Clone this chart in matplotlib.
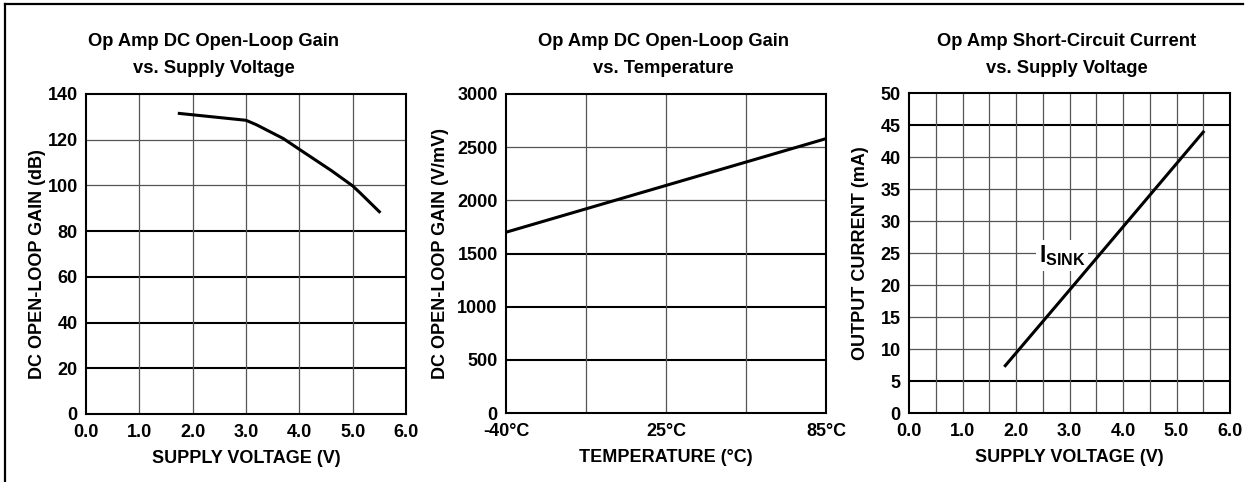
import matplotlib.pyplot as plt
from matplotlib.lines import Line2D

plt.rcParams['font.family'] = ['Liberation Sans', 'DejaVu Sans']
plt.rcParams['font.weight'] = 'bold'
plt.rcParams['mathtext.fontset'] = 'custom'
plt.rcParams['mathtext.bf'] = 'Liberation Sans:bold'
plt.rcParams['mathtext.rm'] = 'Liberation Sans:bold'

# Panel 1: open-loop gain vs supply voltage
gain_v = [1.75, 3.0, 3.2, 3.7, 4.0, 4.6, 5.0, 5.15, 5.5]
gain_db = [131.5, 128.5, 126.5, 120.5, 115.8, 106.5, 99.8, 96.5, 88.5]
p1_yticks = [0, 20, 40, 60, 80, 100, 120, 140]
p1_heavy = [20, 40, 60, 80]
p1_xticks = [0, 1, 2, 3, 4, 5, 6]

# Panel 2: open-loop gain vs temperature
temp_c = [-40, 85]
gain_vmv = [1700, 2580]
p2_yticks = [0, 500, 1000, 1500, 2000, 2500, 3000]
p2_heavy = [500, 1000, 1500]
p2_xgrid = [-40, -8.75, 22.5, 53.75, 85]
p2_xticks = [-40, 22.5, 85]
p2_xlabels = ['-40°C', '25°C', '85°C']

# Panel 3: short-circuit current vs supply voltage
sink_v = [1.8, 3.0, 5.5]
sink_ma = [7.4, 19.2, 43.9]
p3_yticks = [0, 5, 10, 15, 20, 25, 30, 35, 40, 45, 50]
p3_heavy = [5, 45]
p3_xgrid = [0.5 * i for i in range(13)]
p3_xticks = [0, 1, 2, 3, 4, 5, 6]

W, H = 1246, 482
fig = plt.figure(figsize=(W / 100, H / 100), dpi=100)

TICK_FS = 13
LABEL_FS = 13
TITLE_FS = 13.2


def px_axes(l, t, r, b):
    return fig.add_axes([l / W, 1 - b / H, (r - l) / W, (b - t) / H])


def style(ax, yticks, heavy, xgrid, xlim):
    ax.set_xlim(*xlim)
    ax.set_ylim(yticks[0], yticks[-1])
    ax.set_yticks(yticks)
    for y in yticks[1:-1]:
        if y in heavy:
            ax.axhline(y, color='black', lw=1.5, zorder=1)
        else:
            ax.axhline(y, color='#555555', lw=0.9, zorder=1)
    for x in xgrid[1:-1]:
        ax.axvline(x, color='#555555', lw=0.9, zorder=1)
    for s in ax.spines.values():
        s.set_linewidth(1.5)
    ax.tick_params(length=0, labelsize=TICK_FS, pad=6)
    ax.tick_params(axis='x', pad=7)
    for lab in ax.get_yticklabels():
        lab.set_fontweight('bold')


def title(xc, lines):
    fig.text(xc / W, 1 - 46 / H, lines[0], ha='center', va='baseline',
             fontsize=TITLE_FS, fontweight='bold')
    fig.text(xc / W, 1 - 73 / H, lines[1], ha='center', va='baseline',
             fontsize=TITLE_FS, fontweight='bold')


# Panel 1
ax1 = px_axes(86, 94, 406, 414)
style(ax1, p1_yticks, p1_heavy, p1_xticks, (0, 6))
ax1.set_xticks(p1_xticks)
ax1.set_xticklabels([f'{v:.1f}' for v in p1_xticks], fontweight='bold')
ax1.plot(gain_v, gain_db, color='black', lw=2.2, zorder=3)
ax1.set_xlabel('SUPPLY VOLTAGE (V)', fontsize=LABEL_FS, fontweight='bold')
ax1.set_ylabel('DC OPEN-LOOP GAIN (dB)', fontsize=LABEL_FS, fontweight='bold')
ax1.xaxis.set_label_coords(0.5, -0.114)
ax1.yaxis.set_label_coords(-0.125, 0.47)
title(214, ['Op Amp DC Open-Loop Gain', 'vs. Supply Voltage'])

# Panel 2
ax2 = px_axes(506, 94, 826, 413)
style(ax2, p2_yticks, p2_heavy, p2_xgrid, (-40, 85))
ax2.set_xticks(p2_xticks)
ax2.set_xticklabels(p2_xlabels, fontweight='bold')
ax2.plot(temp_c, gain_vmv, color='black', lw=2.2, zorder=3)
ax2.set_xlabel('TEMPERATURE (°C)', fontsize=LABEL_FS, fontweight='bold')
ax2.set_ylabel('DC OPEN-LOOP GAIN (V/mV)', fontsize=LABEL_FS, fontweight='bold')
ax2.xaxis.set_label_coords(0.5, -0.114)
ax2.yaxis.set_label_coords(-0.178, 0.5)
title(663, ['Op Amp DC Open-Loop Gain', 'vs. Temperature'])

# Panel 3
ax3 = px_axes(909, 93, 1230, 413)
style(ax3, p3_yticks, p3_heavy, p3_xgrid, (0, 6))
ax3.set_xticks(p3_xticks)
ax3.set_xticklabels([f'{v:.1f}' for v in p3_xticks], fontweight='bold')
ax3.plot(sink_v, sink_ma, color='black', lw=2.2, zorder=3)
ax3.text(2.86, 24.6, r'$\mathbf{I_{SINK}}$', ha='center', va='center',
         fontsize=16.5, zorder=2,
         bbox=dict(facecolor='white', edgecolor='none', pad=2))
ax3.set_xlabel('SUPPLY VOLTAGE (V)', fontsize=LABEL_FS, fontweight='bold')
ax3.set_ylabel('OUTPUT CURRENT (mA)', fontsize=LABEL_FS, fontweight='bold')
ax3.xaxis.set_label_coords(0.5, -0.114)
ax3.yaxis.set_label_coords(-0.125, 0.5)
title(1067, ['Op Amp Short-Circuit Current', 'vs. Supply Voltage'])

# page frame (top and left edges)
fig.add_artist(Line2D([5 / W, 1243 / W], [1 - 4 / H, 1 - 4 / H],
                      color='black', lw=1.6))
fig.add_artist(Line2D([5 / W, 5 / W], [1 - 4 / H, 0], color='black', lw=1.6))

fig.savefig('out.png', dpi=100)
